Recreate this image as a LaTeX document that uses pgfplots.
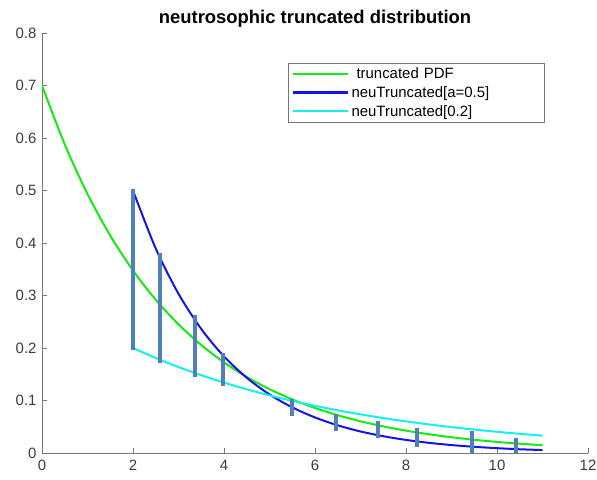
\documentclass[border=0pt]{standalone}
\usepackage{fontspec}
\setmainfont{Liberation Sans}
\usepackage{pgfplots}
\pgfplotsset{compat=1.18}
\definecolor{pdfgreen}{RGB}{20,235,20}
\definecolor{neublue}{RGB}{20,20,230}
\definecolor{neucyan}{RGB}{20,240,240}
\definecolor{barblue}{RGB}{80,128,188}
\definecolor{axgray}{RGB}{120,120,120}
\definecolor{ticktext}{RGB}{60,60,60}

\begin{document}
\begin{tikzpicture}[x=1bp,y=1bp]
\begin{axis}[
    scale only axis,
    width=546bp,height=420bp,
    xmin=0,xmax=12,ymin=0,ymax=0.8,
    xtick={0,2,...,12},
    ytick={0,0.1,...,0.8},
    axis lines*=left,
    axis line style={draw=axgray,line width=1pt},
    tick style={draw=axgray,line width=0.8pt},
    tick align=inside,
    major tick length=5bp,
    tick label style={font=\fontsize{15}{17}\selectfont,text=ticktext},
    xticklabel style={yshift=-4bp},
    yticklabel style={xshift=-2bp,/pgf/number format/fixed,/pgf/number format/precision=1},
    /pgf/number format/assume math mode=true,
    title={\bfseries neutrosophic truncated distribution},
    title style={font=\fontsize{18.5}{20}\selectfont,yshift=-4bp},
    legend style={font=\fontsize{15}{17}\selectfont,draw=axgray,
      at={(axis cs:5.41,0.743)},anchor=north west,
      row sep=2.5bp,inner xsep=4bp,inner ysep=2.5bp,
      text width=187bp},
    legend cell align=left,
    legend image code/.code={\draw[#1,line width=2.2pt] (0bp,0bp) -- (55bp,0bp);},
]
\addplot[pdfgreen,line width=2pt,smooth] coordinates {
 (0,0.7000)(0.5,0.5877)(1,0.4933)(1.5,0.4141)(2,0.3476)(2.5,0.2918)(3,0.2450)
 (3.5,0.2056)(4,0.1726)(4.5,0.1449)(5,0.1216)(5.5,0.1021)(6,0.0857)(6.5,0.0720)
 (7,0.0604)(7.5,0.0507)(8,0.0426)(8.5,0.0357)(9,0.0300)(9.5,0.0252)(10,0.0211)
 (10.5,0.0177)(11,0.0149)};
\addlegendentry{\ truncated PDF}
\addplot[neublue,line width=2pt,smooth] coordinates {
 (2,0.5000)(2.5,0.3894)(3,0.3033)(3.5,0.2362)(4,0.1839)(4.5,0.1433)(5,0.1116)
 (5.5,0.0869)(6,0.0677)(6.5,0.0527)(7,0.0410)(7.5,0.0320)(8,0.0249)(8.5,0.0194)
 (9,0.0151)(9.5,0.0118)(10,0.0092)(10.5,0.0071)(11,0.0056)};
\addlegendentry{neuTruncated[a=0.5]}
\addplot[neucyan,line width=2pt,smooth] coordinates {
 (2,0.2000)(2.5,0.1810)(3,0.1637)(3.5,0.1482)(4,0.1341)(4.5,0.1213)(5,0.1098)
 (5.5,0.0993)(6,0.0899)(6.5,0.0813)(7,0.0736)(7.5,0.0666)(8,0.0602)(8.5,0.0545)
 (9,0.0493)(9.5,0.0446)(10,0.0404)(10.5,0.0365)(11,0.0331)};
\addlegendentry{neuTruncated[0.2]}
% vertical bars between the two neutrosophic curves
\addplot[barblue,line width=4pt,forget plot] coordinates {(2,0.502)(2,0.196)};
\addplot[barblue,line width=4pt,forget plot] coordinates {(2.6,0.381)(2.6,0.172)};
\addplot[barblue,line width=4pt,forget plot] coordinates {(3.36,0.262)(3.36,0.145)};
\addplot[barblue,line width=4pt,forget plot] coordinates {(3.97,0.190)(3.97,0.128)};
\addplot[barblue,line width=4pt,forget plot] coordinates {(5.5,0.103)(5.5,0.070)};
\addplot[barblue,line width=4pt,forget plot] coordinates {(6.46,0.074)(6.46,0.042)};
\addplot[barblue,line width=4pt,forget plot] coordinates {(7.38,0.060)(7.38,0.029)};
\addplot[barblue,line width=4pt,forget plot] coordinates {(8.25,0.047)(8.25,0.012)};
\addplot[barblue,line width=4pt,forget plot] coordinates {(9.44,0.042)(9.44,0.000)};
\addplot[barblue,line width=4pt,forget plot] coordinates {(10.42,0.029)(10.42,-0.003)};
\end{axis}
\pgfresetboundingbox
\path (-42,-27) rectangle (555,453);
\end{tikzpicture}
\end{document}
